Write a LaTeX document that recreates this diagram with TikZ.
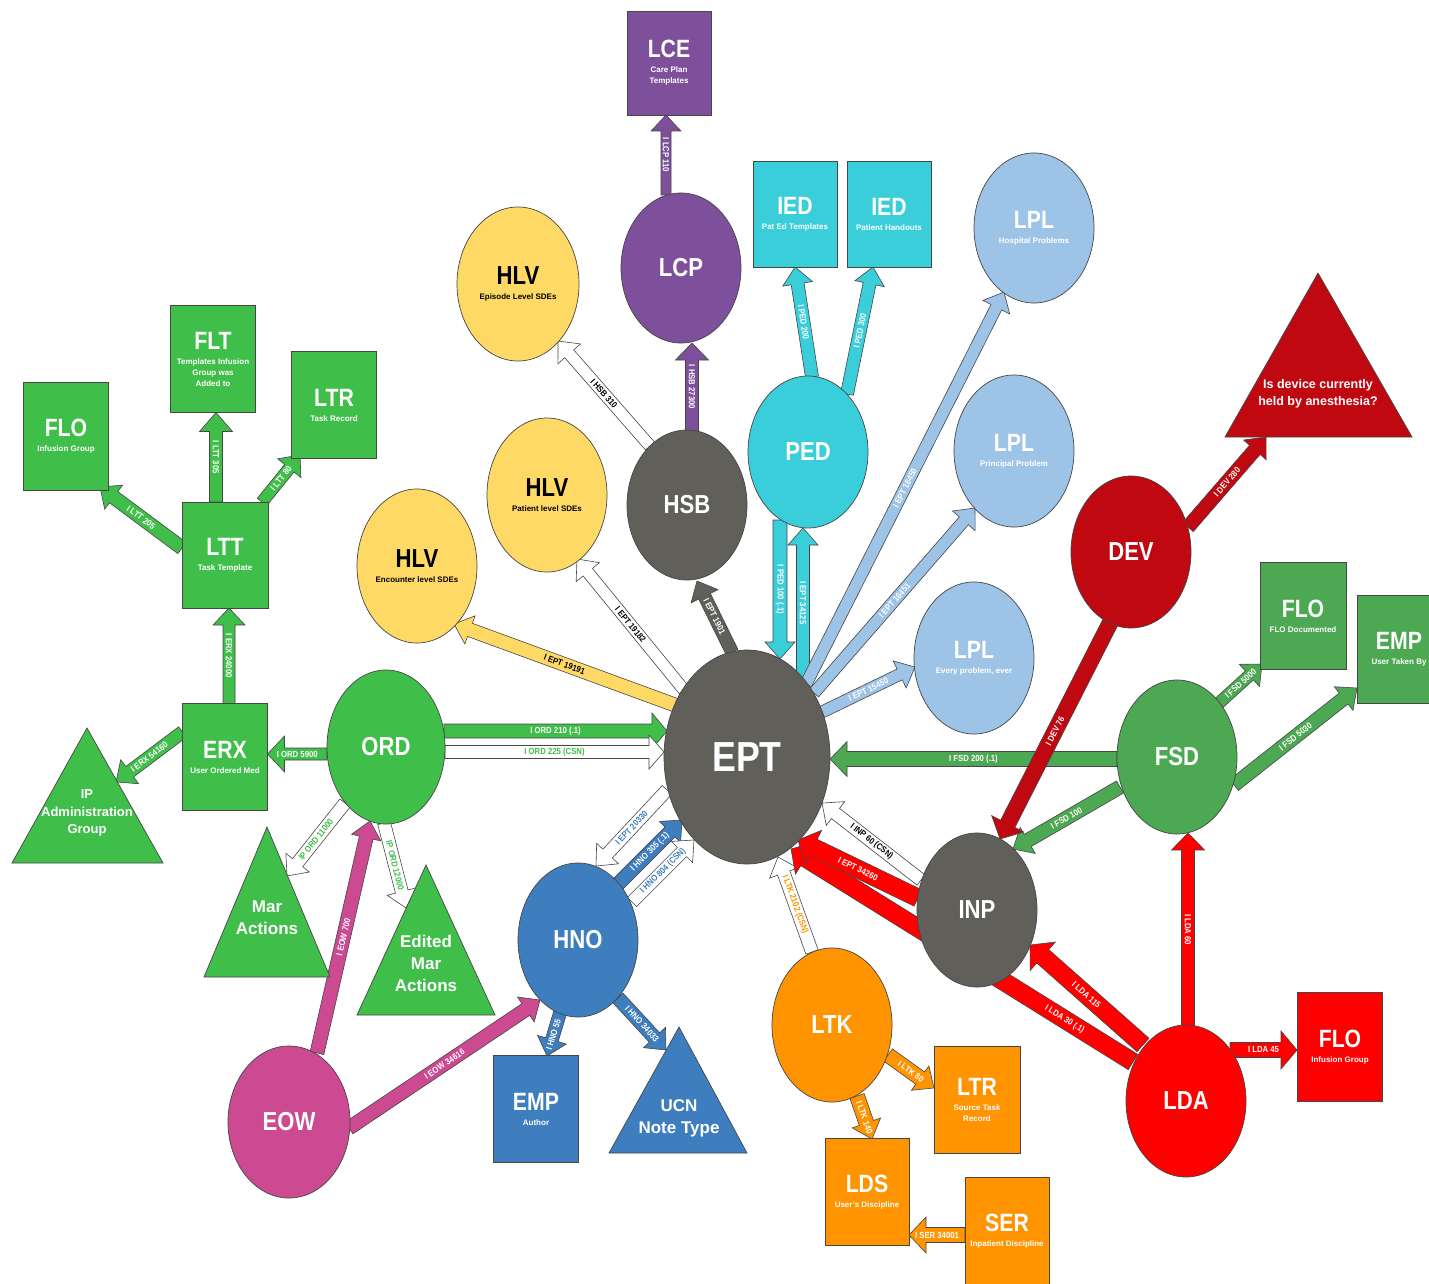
\documentclass[tikz,border=0pt]{standalone}
\usepackage{fontspec}
\setmainfont{Liberation Sans}
\newfontfamily\tfont[FakeStretch=0.85]{Liberation Sans}
\newfontfamily\lfont[FakeStretch=0.88]{Liberation Sans}
\usetikzlibrary{calc,shapes.geometric}
\pgfdeclarelayer{paper}
\pgfdeclarelayer{bg}
\pgfsetlayers{paper,bg,main}
\definecolor{cOut}{RGB}{70,70,70}
\definecolor{cPur}{RGB}{126,80,155}
\definecolor{cCyan}{RGB}{58,206,218}
\definecolor{cLpl}{RGB}{157,195,230}
\definecolor{cYel}{RGB}{255,217,102}
\definecolor{cGray}{RGB}{96,95,90}
\definecolor{cDred}{RGB}{192,8,16}
\definecolor{cGrn}{RGB}{64,190,74}
\definecolor{cGrn2}{RGB}{76,168,82}
\definecolor{cBlu}{RGB}{62,126,190}
\definecolor{cMag}{RGB}{204,74,146}
\definecolor{cOrg}{RGB}{255,148,0}
\definecolor{cRed}{RGB}{255,0,0}
\newcommand\TitE[1]{{\tfont\bfseries\fontsize{42}{42}\selectfont #1}}
\newcommand\TitC[1]{{\tfont\bfseries\fontsize{26}{26}\selectfont #1}}
\newcommand\TitR[1]{{\tfont\bfseries\fontsize{25}{25}\selectfont #1}}
\newcommand\SubT[1]{{\bfseries\fontsize{8}{11}\selectfont #1}}
\pgfkeys{/barr/.is family,
 /barr/w/.store in=\bww,/barr/hw/.store in=\bhww,/barr/hl/.store in=\bhl,
 /barr/pos/.store in=\bpos,/barr/fc/.store in=\bfc,/barr/tc/.store in=\btc}
\tikzset{
 outl/.style={draw=cOut,line width=0.7pt},
 ell/.style={ellipse,outl,inner sep=0pt,minimum width=120pt,minimum height=152pt,align=center,font=\fontsize{8}{11}\selectfont,text=white},
 box/.style={rectangle,outl,inner sep=0pt,minimum width=85pt,minimum height=107pt,align=center,font=\fontsize{8}{11}\selectfont,text=white},
 arrline/.style={draw=cOut,line width=0.6pt,line join=miter},
 arrlbl/.style={inner sep=0pt,font=\lfont\bfseries\fontsize{8.8}{10}\selectfont},
 trilbl/.style={align=center,text=white,inner sep=0pt,font=\bfseries\fontsize{17}{22}\selectfont}
}
\newcommand\blockarrow[4][]{%
 \begingroup
 \pgfkeys{/barr/.cd,w=13,hw=30,hl=17,pos=0.5,fc=white,tc=white,#1}%
 \path #2 coordinate (bA) #3 coordinate (bB);%
 \pgfpointanchor{bA}{center}\pgfgetlastxy\bsx\bsy
 \pgfpointdiff{\pgfpointanchor{bA}{center}}{\pgfpointanchor{bB}{center}}\pgfgetlastxy\bdx\bdy
 \pgfmathsetmacro\bang{atan2(\bdy,\bdx)}%
 \pgfmathsetmacro\blen{veclen(\bdx,\bdy)}%
 \pgfmathsetmacro\bbase{\blen-\bhl}%
 \pgfmathsetmacro\bw{\bww/2}%
 \pgfmathsetmacro\bh{\bhww/2}%
 \pgfmathsetmacro\blp{\blen*\bpos}%
 \pgfmathsetmacro\blang{(\bang>89)?(\bang-180):((\bang<-91)?(\bang+180):\bang)}%
 \begin{scope}[shift={(\bsx,\bsy)},rotate=\bang]
  \draw[arrline,fill=\bfc] (0pt,-\bw pt) -- (\bbase pt,-\bw pt) -- (\bbase pt,-\bh pt) -- (\blen pt,0pt) -- (\bbase pt,\bh pt) -- (\bbase pt,\bw pt) -- (0pt,\bw pt) -- cycle;
  \node[arrlbl,text=\btc,rotate=\blang] at (\blp pt,0pt) {#4};
 \end{scope}
 \endgroup}
\begin{document}
\begin{tikzpicture}[x=1pt,y=-1pt]
\useasboundingbox (0,0) rectangle (1429,1284);
\begin{pgfonlayer}{paper}
\fill[white] (0,0) rectangle (1429,1284);
\end{pgfonlayer}
% ---------- nodes ----------
\node[box,fill=cPur,minimum width=84pt,minimum height=104pt] (LCE) at (669,63) {\TitR{LCE}\\[4pt]\SubT{Care Plan}\\\SubT{Templates}};
\node[ell,fill=cPur,minimum height=150pt] (LCP) at (681,268) {\TitC{LCP}};
\node[box,fill=cCyan,minimum width=84pt,minimum height=106pt] (IEDa) at (795,214) {\TitR{IED}\\[4pt]\SubT{Pat Ed Templates}};
\node[box,fill=cCyan,minimum width=84pt,minimum height=106pt] (IEDb) at (889,214) {\TitR{IED}\\[4pt]\SubT{Patient Handouts}};
\node[ell,fill=cLpl,minimum height=150pt] (LPLa) at (1034,228) {\TitR{LPL}\\[4pt]\SubT{Hospital Problems}};
\node[ell,fill=cLpl] (LPLb) at (1014,451) {\TitR{LPL}\\[4pt]\SubT{Principal Problem}};
\node[ell,fill=cLpl] (LPLc) at (974,658) {\TitR{LPL}\\[4pt]\SubT{Every problem, ever}};
\node[ell,fill=cYel,text=black,minimum width=122pt,minimum height=154pt] (HLVa) at (518,284) {\TitC{HLV}\\[4pt]\SubT{Episode Level SDEs}};
\node[ell,fill=cYel,text=black,minimum height=154pt] (HLVb) at (547,495) {\TitC{HLV}\\[4pt]\SubT{Patient level SDEs}};
\node[ell,fill=cYel,text=black,minimum height=154pt] (HLVc) at (417,566) {\TitC{HLV}\\[4pt]\SubT{Encounter level SDEs}};
\node[ell,fill=cGray,minimum height=150pt] (HSB) at (687,505) {\TitC{HSB}};
\node[ell,fill=cCyan] (PED) at (808,452) {\TitC{PED}};
\node[ell,fill=cDred] (DEV) at (1131,552) {\TitC{DEV}};
\draw[outl,fill=cDred] (1318,273) coordinate (DEVT) -- (1412,437) -- (1225,437) -- cycle;
\node[trilbl,font=\bfseries\fontsize{12.5}{17}\selectfont] (DEVTt) at (1318,394) {Is device currently\\held by anesthesia?};
\node[box,fill=cGrn] (FLT) at (213,359) {\TitR{FLT}\\[4pt]\SubT{Templates Infusion}\\\SubT{Group was}\\\SubT{Added to}};
\node[box,fill=cGrn,minimum height=108pt] (FLOa) at (66,436) {\TitR{FLO}\\[4pt]\SubT{Infusion Group}};
\node[box,fill=cGrn] (LTRg) at (334,405) {\TitR{LTR}\\[4pt]\SubT{Task Record}};
\node[box,fill=cGrn,minimum width=86pt,minimum height=106pt] (LTT) at (225,555) {\TitR{LTT}\\[4pt]\SubT{Task Template}};
\node[box,fill=cGrn] (ERX) at (225,757) {\TitR{ERX}\\[4pt]\SubT{User Ordered Med}};
\draw[outl,fill=cGrn] (87,728) coordinate (IPT) -- (163,863) -- (12,863) -- cycle;
\node[trilbl,font=\bfseries\fontsize{13}{17.5}\selectfont] (IPTt) at (87,813) {IP\\Administration\\Group};
\node[ell,fill=cGrn,minimum width=118pt,minimum height=154pt] (ORD) at (386,747) {\TitC{ORD}};
\node[ell,fill=cGray,minimum width=166pt,minimum height=214pt] (EPT) at (747,757) {\TitE{EPT}};
\node[ell,fill=cGrn2,minimum height=154pt] (FSD) at (1177,757) {\TitC{FSD}};
\node[box,fill=cGrn2,minimum width=86pt] (FLOb) at (1303,616) {\TitR{FLO}\\[4pt]\SubT{FLO Documented}};
\node[box,fill=cGrn2,minimum width=84pt,minimum height=108pt] (EMPb) at (1399,649) {\TitR{EMP}\\[4pt]\SubT{User Taken By}};
\node[ell,fill=cGray,minimum height=154pt] (INP) at (977,910) {\TitC{INP}};
\draw[outl,fill=cGrn] (267,827) coordinate (MAR) -- (330,977) -- (204,977) -- cycle;
\node[trilbl] (MARt) at (267,918) {Mar\\Actions};
\draw[outl,fill=cGrn] (426,865) coordinate (EMAR) -- (495,1015) -- (357,1015) -- cycle;
\node[trilbl] (EMARt) at (426,963) {Edited\\Mar\\Actions};
\node[ell,fill=cBlu,minimum height=154pt] (HNO) at (578,940) {\TitC{HNO}};
\node[box,fill=cBlu] (EMPa) at (536,1109) {\TitR{EMP}\\[4pt]\SubT{Author}};
\draw[outl,fill=cBlu] (679,1027) coordinate (UCN) -- (747,1153) -- (609,1153) -- cycle;
\node[trilbl] (UCNt) at (679,1118) {UCN\\Note Type};
\node[ell,fill=cMag,minimum width=122pt] (EOW) at (289,1122) {\TitC{EOW}};
\node[ell,fill=cOrg,minimum height=154pt] (LTK) at (832,1025) {\TitC{LTK}};
\node[box,fill=cOrg,minimum width=86pt] (LTRo) at (977,1100) {\TitR{LTR}\\[4pt]\SubT{Source Task}\\\SubT{Record}};
\node[box,fill=cOrg,minimum width=84pt] (LDS) at (867,1192) {\TitR{LDS}\\[4pt]\SubT{User's Discipline}};
\node[box,fill=cOrg,minimum width=84pt] (SER) at (1007,1231) {\TitR{SER}\\[4pt]\SubT{Inpatient Discipline}};
\node[ell,fill=cRed] (LDA) at (1186,1101) {\TitC{LDA}};
\node[box,fill=cRed,minimum height=109pt] (FLOc) at (1340,1047) {\TitR{FLO}\\[4pt]\SubT{Infusion Group}};
% ---------- connectors ----------
\begin{pgfonlayer}{bg}
\blockarrow[w=10,hw=30,hl=16,fc=cPur]{($(LCP)+(-15,-73)$)}{($(LCE)+(-3,52)$)}{I LCP 110}
\blockarrow[fc=cPur,hw=33]{($(HSB)+(5,-74)$)}{($(LCP)+(11,75)$)}{I HSB 27300}
\blockarrow[w=12,fc=white,tc=black]{($(HSB)+(-37,-59)$)}{($(HLVa)+(40,57)$)}{I HSB 310}
\blockarrow[fc=cGray]{($(EPT)+(-15,-105)$)}{($(HSB)+(10,76)$)}{I EPT 1901}
\blockarrow[w=12,fc=white,tc=black]{($(EPT)+(-63,-67)$)}{($(HLVb)+(30,64)$)}{I EPT 19182}
\blockarrow[w=14,fc=cYel,tc=black]{($(EPT)+(-72,-52)$)}{($(HLVc)+(37,58)$)}{I EPT 19191}
\blockarrow[w=14,fc=cCyan]{($(PED)+(-28,68)$)}{($(EPT)+(33,-98)$)}{I PED 100 (.1)}
\blockarrow[fc=cCyan]{($(EPT)+(56,-79)$)}{($(PED)+(-5,76)$)}{I EPT 34125}
\blockarrow[fc=cCyan]{($(PED)+(4,-75)$)}{($(IEDa)+(0,53)$)}{I PED 200}
\blockarrow[fc=cCyan]{($(PED)+(39,-58)$)}{($(IEDb)+(-16,53)$)}{I PED 300}
\blockarrow[w=12,fc=cLpl]{($(EPT)+(59,-73)$)}{($(LPLa)+(-30,64)$)}{I EPT 16450}
\blockarrow[w=12,fc=cLpl]{($(EPT)+(67,-64)$)}{($(LPLb)+(-39,57)$)}{I EPT 16451}
\blockarrow[w=12,fc=cLpl]{($(EPT)+(75,-45)$)}{($(LPLc)+(-59,9)$)}{I EPT 15450}
\blockarrow[w=14,hw=36,hl=15,fc=cGrn]{($(ORD)+(58,-16)$)}{($(EPT)+(-80,-26)$)}{I ORD 210 (.1)}
\blockarrow[w=13,hw=34,hl=15,fc=white,tc=cGrn]{($(ORD)+(59,5)$)}{($(EPT)+(-83,-5)$)}{I ORD 225 (CSN)}
\blockarrow[w=12,hw=36,fc=cGrn]{($(ORD)+(-59,7)$)}{($(ERX)+(42.5,-3)$)}{I ORD 5900}
\blockarrow[w=12,hw=32,fc=cGrn]{($(ERX)+(4,-53.5)$)}{($(LTT)+(4,53)$)}{I ERX 24000}
\blockarrow[hw=33,hl=19,fc=cGrn]{($(LTT)+(-9,-53)$)}{($(FLT)+(3,53.5)$)}{I LTT 305}
\blockarrow[w=12,fc=cGrn]{($(LTT)+(37,-53)$)}{($(LTRg)+(-34,50)$)}{I LTT 80}
\blockarrow[w=14,fc=cGrn]{($(LTT)+(-43,-7)$)}{($(FLOa)+(34,51)$)}{I LTT 205}
\blockarrow[fc=cGrn]{($(ERX)+(-42.5,-25)$)}{($(IPT)+(29,54)$)}{I ERX 54160}
\blockarrow[fc=white,tc=cGrn]{($(ORD)+(-41,56)$)}{($(MAR)+(20,49)$)}{IP ORD 11000}
\blockarrow[fc=white,tc=cGrn]{($(ORD)+(-2,76)$)}{($(EMAR)+(-20,43)$)}{IP ORD 12000}
\blockarrow[w=14,fc=cMag]{($(EOW)+(28,-69)$)}{($(ORD)+(-16,74)$)}{I EOW 700}
\blockarrow[w=14,fc=cMag]{($(EOW)+(60,6)$)}{($(HNO)+(-38,60)$)}{I EOW 34616}
\blockarrow[fc=white,tc=cBlu]{($(EPT)+(-80,33)$)}{($(HNO)+(18,-74)$)}{I EPT 20330}
\blockarrow[w=14,fc=cBlu]{($(HNO)+(40,-56)$)}{($(EPT)+(-65,63)$)}{I HNO 305 (.1)}
\blockarrow[fc=white,tc=cBlu]{($(HNO)+(54,-38)$)}{($(EPT)+(-53,83)$)}{I HNO 804 (CSN)}
\blockarrow[fc=cBlu]{($(HNO)+(-18,73)$)}{($(EMPa)+(11,-53)$)}{I HNO 55}
\blockarrow[w=14,fc=cBlu]{($(HNO)+(40,58)$)}{($(UCN)+(-13,23)$)}{I HNO 34033}
\blockarrow[fc=white,tc=cOrg]{($(LTK)+(-20,-73)$)}{($(EPT)+(31,100)$)}{I LTK 2102 (CSN)}
\blockarrow[w=15,fc=cOrg]{($(LTK)+(56,30)$)}{($(LTRo)+(-43,-12)$)}{I LTK 80}
\blockarrow[w=15,fc=cOrg]{($(LTK)+(25,71)$)}{($(LDS)+(5,-53)$)}{I LTK 140}
\blockarrow[w=15,hw=36,fc=cOrg]{($(SER)+(-42,4)$)}{($(LDS)+(42,43)$)}{I SER 34001}
\blockarrow[w=15,hw=35,fc=cGrn2]{($(FSD)+(-60,2)$)}{($(EPT)+(83,2)$)}{I FSD 200 (.1)}
\blockarrow[w=14,fc=cGrn2]{($(FSD)+(-57,30)$)}{($(INP)+(36,-61)$)}{I FSD 100}
\blockarrow[w=12,fc=cGrn2]{($(FSD)+(42,-54)$)}{($(FLOb)+(-41,48)$)}{I FSD 5000}
\blockarrow[w=14,fc=cGrn2]{($(FSD)+(57,28)$)}{($(EMPb)+(-42,39)$)}{I FSD 5030}
\blockarrow[w=16,hw=36,fc=cDred]{($(DEV)+(-21,71)$)}{($(INP)+(23,-71)$)}{I DEV 76}
\blockarrow[w=14,fc=cDred]{($(DEV)+(57,-25)$)}{($(DEVT)+(-52,164)$)}{I DEV 280}
\blockarrow[fc=white,tc=black]{($(INP)+(-56,-30)$)}{($(EPT)+(75,46)$)}{I INP 60 (CSN)}
\blockarrow[w=18,hw=38,pos=0.2,fc=cRed]{($(LDA)+(-53,-39)$)}{($(EPT)+(44,92)$)}{I LDA 30 (.1)}
\blockarrow[w=18,hw=38,fc=cRed]{($(INP)+(-59,-12)$)}{($(EPT)+(51,83)$)}{I EPT 34260}
\blockarrow[w=18,hw=38,fc=cRed]{($(LDA)+(-43,-56)$)}{($(INP)+(53,35)$)}{I LDA 115}
\blockarrow[fc=cRed,hw=33]{($(LDA)+(2,-75)$)}{($(FSD)+(11,76)$)}{I LDA 60}
\blockarrow[w=15,hw=38,hl=16,fc=cRed]{($(LDA)+(44,-51)$)}{($(FLOc)+(-43,3)$)}{I LDA 45}
\end{pgfonlayer}
\end{tikzpicture}
\end{document}
